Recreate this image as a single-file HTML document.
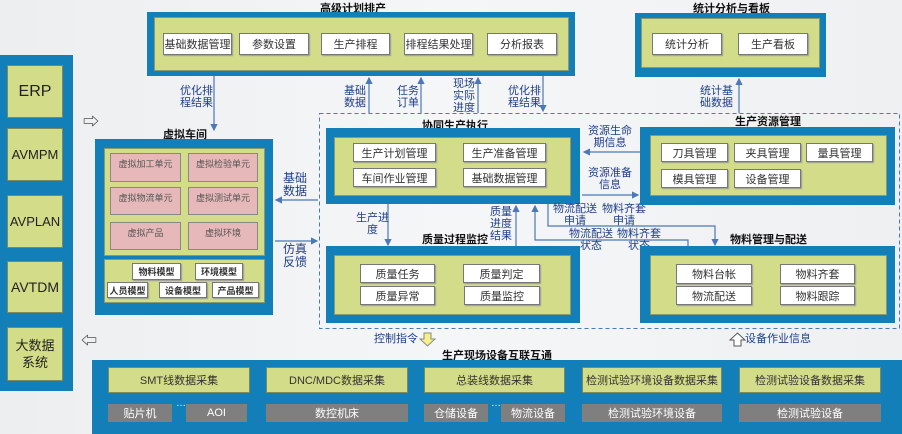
<!DOCTYPE html>
<html><head><meta charset="utf-8"><style>
*{margin:0;padding:0;box-sizing:border-box}
body{width:902px;height:434px;overflow:hidden;background:linear-gradient(90deg,#eceef0,#f5f6f7 50%,#eef0f2);font-family:"Liberation Sans","Noto Sans CJK SC",sans-serif;position:relative}
.a{position:absolute}
.blue{position:absolute;background:#137fb8}
.grn{position:absolute;background:#d3dc88;border:1px solid #8a9a6a}
.btn{position:absolute;background:#fff;border:1px solid #777;box-shadow:1px 1px 1px #999;font-size:11px;color:#333;display:flex;align-items:center;justify-content:center;white-space:nowrap}
.pink{position:absolute;background:#e6b8b9;border:1px solid #888;font-size:9px;color:#555;text-align:center;padding-top:3px}
.gb{position:absolute;background:#d3dc88;border:1px solid #7a8a5a;font-size:11px;color:#333;display:flex;align-items:center;justify-content:center;white-space:nowrap}
.gray{position:absolute;background:#7f7f7f;color:#fff;font-size:11px;display:flex;align-items:center;justify-content:center}
.t{position:absolute;font-size:11px;font-weight:bold;color:#111;white-space:nowrap}
.l{position:absolute;font-size:11px;color:#1f3f8a;line-height:12px;text-align:center;white-space:nowrap}
.lb{position:absolute;background:#d3dc88;border:1px solid #7a8a5a;display:flex;align-items:center;justify-content:center;text-align:center;color:#222;font-size:13px}
</style></head><body>
<svg class="a" style="left:0;top:0" width="902" height="434">
<defs><marker id="m" markerWidth="6" markerHeight="6" refX="5" refY="3" orient="auto"><path d="M0,0 L6,3 L0,6 z" fill="#4a78b8"/></marker></defs>
<rect x="319.5" y="113.5" width="580" height="215" fill="none" stroke="#4a78b8" stroke-dasharray="4,3"/>
<g stroke="#4a78b8" stroke-width="1.2" fill="none" marker-end="url(#m)">
<line x1="214" y1="76" x2="214" y2="130"/>
<line x1="369" y1="113" x2="369" y2="78"/>
<line x1="421" y1="113" x2="421" y2="78"/>
<line x1="478" y1="113" x2="478" y2="78"/>
<line x1="543" y1="76" x2="543" y2="111"/>
<line x1="739" y1="113" x2="739" y2="79"/>
<line x1="640" y1="152" x2="584" y2="152"/>
<line x1="582" y1="195" x2="638" y2="195"/>
<line x1="318" y1="200" x2="276" y2="200"/>
<line x1="275" y1="241" x2="317" y2="241"/>
<line x1="388" y1="204" x2="388" y2="245"/>
<line x1="516" y1="246" x2="516" y2="206"/>
<polyline points="688,247 688,240 535,240 535,206"/>
<polyline points="548,204 548,226 715,226 715,245"/>
</g>
</svg>
<div class="blue" style="left:0;top:55px;width:73px;height:336px"></div>
<div class="lb" style="left:7px;top:65px;width:56px;height:53px;font-size:16px">ERP</div>
<div class="lb" style="left:7px;top:128px;width:56px;height:53px">AVMPM</div>
<div class="lb" style="left:7px;top:195px;width:56px;height:53px">AVPLAN</div>
<div class="lb" style="left:7px;top:261px;width:56px;height:52px;font-size:14px">AVTDM</div>
<div class="lb" style="left:7px;top:327px;width:56px;height:54px;font-size:13px;line-height:17px">大数据<br>系统</div>
<div class="a" style="left:83px;top:108px;font-size:16px;color:#333">⇨</div>
<div class="a" style="left:81px;top:327px;font-size:16px;color:#333">⇦</div>
<div class="t" style="left:320px;top:0px">高级计划排产</div>
<div class="blue" style="left:147px;top:12px;width:428px;height:64px"></div>
<div class="grn" style="left:154px;top:17px;width:415px;height:54px"></div>
<div class="btn" style="left:163px;top:33px;width:69px;height:22px">基础数据管理</div>
<div class="btn" style="left:239px;top:33px;width:70px;height:22px">参数设置</div>
<div class="btn" style="left:321px;top:33px;width:69px;height:22px">生产排程</div>
<div class="btn" style="left:404px;top:33px;width:69px;height:22px">排程结果处理</div>
<div class="btn" style="left:487px;top:33px;width:70px;height:22px">分析报表</div>
<div class="l" style="left:180px;top:85px">优化排<br>程结果</div>
<div class="l" style="left:344px;top:85px">基础<br>数据</div>
<div class="l" style="left:397px;top:85px">任务<br>订单</div>
<div class="l" style="left:453px;top:78px">现场<br>实际<br>进度</div>
<div class="l" style="left:508px;top:85px">优化排<br>程结果</div>
<div class="t" style="left:693px;top:0px">统计分析与看板</div>
<div class="blue" style="left:635px;top:13px;width:191px;height:64px"></div>
<div class="grn" style="left:641px;top:18px;width:179px;height:50px"></div>
<div class="btn" style="left:652px;top:33px;width:70px;height:22px">统计分析</div>
<div class="btn" style="left:738px;top:33px;width:70px;height:22px">生产看板</div>
<div class="l" style="left:700px;top:85px">统计基<br>础数据</div>
<div class="t" style="left:163px;top:126px">虚拟车间</div>
<div class="blue" style="left:95px;top:139px;width:178px;height:176px"></div>
<div class="grn" style="left:104px;top:148px;width:161px;height:108px"></div>
<div class="pink" style="left:110px;top:153px;width:71px;height:29px">虚拟加工单元</div>
<div class="pink" style="left:188px;top:153px;width:70px;height:29px">虚拟检验单元</div>
<div class="pink" style="left:110px;top:187px;width:71px;height:28px">虚拟物流单元</div>
<div class="pink" style="left:188px;top:187px;width:70px;height:28px">虚拟测试单元</div>
<div class="pink" style="left:110px;top:222px;width:71px;height:28px">虚拟产品</div>
<div class="pink" style="left:188px;top:222px;width:70px;height:28px">虚拟环境</div>
<div class="grn" style="left:104px;top:259px;width:161px;height:44px"></div>
<div class="btn" style="left:132px;top:263px;width:49px;height:17px;font-size:9px;font-weight:bold">物料模型</div>
<div class="btn" style="left:195px;top:263px;width:48px;height:17px;font-size:9px;font-weight:bold">环境模型</div>
<div class="btn" style="left:107px;top:282px;width:41px;height:16px;font-size:9px;font-weight:bold">人员模型</div>
<div class="btn" style="left:159px;top:282px;width:48px;height:16px;font-size:9px;font-weight:bold">设备模型</div>
<div class="btn" style="left:212px;top:282px;width:47px;height:16px;font-size:9px;font-weight:bold">产品模型</div>
<div class="l" style="left:283px;top:172px;font-size:12px;line-height:13px">基础<br>数据</div>
<div class="l" style="left:283px;top:243px;font-size:12px;line-height:13px">仿真<br>反馈</div>
<div class="t" style="left:422px;top:117px">协同生产执行</div>
<div class="blue" style="left:326px;top:128px;width:254px;height:76px"></div>
<div class="grn" style="left:334px;top:137px;width:237px;height:59px"></div>
<div class="btn" style="left:353px;top:143px;width:83px;height:19px">生产计划管理</div>
<div class="btn" style="left:463px;top:143px;width:83px;height:19px">生产准备管理</div>
<div class="btn" style="left:353px;top:168px;width:83px;height:19px">车间作业管理</div>
<div class="btn" style="left:463px;top:168px;width:83px;height:19px">基础数据管理</div>
<div class="l" style="left:588px;top:125px">资源生命<br>期信息</div>
<div class="l" style="left:588px;top:167px">资源准备<br>信息</div>
<div class="l" style="left:356px;top:212px">生产进<br>度</div>
<div class="l" style="left:490px;top:206px">质量<br>进度<br>结果</div>
<div class="l" style="left:553px;top:203px">物流配送<br>申请</div>
<div class="l" style="left:602px;top:203px">物料齐套<br>申请</div>
<div class="l" style="left:569px;top:228px">物流配送<br>状态</div>
<div class="l" style="left:617px;top:228px">物料齐套<br>状态</div>
<div class="t" style="left:735px;top:113px">生产资源管理</div>
<div class="blue" style="left:640px;top:127px;width:255px;height:78px"></div>
<div class="grn" style="left:650px;top:135px;width:237px;height:61px"></div>
<div class="btn" style="left:661px;top:143px;width:67px;height:19px">刀具管理</div>
<div class="btn" style="left:734px;top:143px;width:67px;height:19px">夹具管理</div>
<div class="btn" style="left:806px;top:143px;width:67px;height:19px">量具管理</div>
<div class="btn" style="left:661px;top:169px;width:67px;height:19px">模具管理</div>
<div class="btn" style="left:734px;top:169px;width:67px;height:19px">设备管理</div>
<div class="t" style="left:422px;top:231px">质量过程监控</div>
<div class="blue" style="left:326px;top:246px;width:254px;height:77px"></div>
<div class="grn" style="left:334px;top:255px;width:237px;height:60px"></div>
<div class="btn" style="left:360px;top:264px;width:75px;height:19px">质量任务</div>
<div class="btn" style="left:463px;top:264px;width:77px;height:19px">质量判定</div>
<div class="btn" style="left:360px;top:286px;width:75px;height:19px">质量异常</div>
<div class="btn" style="left:464px;top:286px;width:76px;height:19px">质量监控</div>
<div class="t" style="left:730px;top:231px">物料管理与配送</div>
<div class="blue" style="left:640px;top:246px;width:255px;height:77px"></div>
<div class="grn" style="left:650px;top:255px;width:237px;height:60px"></div>
<div class="btn" style="left:676px;top:264px;width:76px;height:20px">物料台帐</div>
<div class="btn" style="left:780px;top:264px;width:75px;height:20px">物料齐套</div>
<div class="btn" style="left:676px;top:286px;width:76px;height:19px">物流配送</div>
<div class="btn" style="left:780px;top:286px;width:75px;height:19px">物料跟踪</div>
<div class="l" style="left:374px;top:333px">控制指令</div>
<svg class="a" style="left:419px;top:332px" width="18" height="15"><path d="M5,1 H12 V7 H16 L8.5,14 L1,7 H5 Z" fill="#f7f08a" stroke="#888"/></svg>
<svg class="a" style="left:729px;top:332px" width="18" height="15"><path d="M5,14 H12 V8 H16 L8.5,1 L1,8 H5 Z" fill="#fff" stroke="#555"/></svg>
<div class="l" style="left:745px;top:333px">设备作业信息</div>
<div class="t" style="left:442px;top:347px">生产现场设备互联互通</div>
<div class="blue" style="left:92px;top:360px;width:810px;height:74px"></div>
<div class="gb" style="left:108px;top:367px;width:142px;height:26px">SMT线数据采集</div>
<div class="gb" style="left:266px;top:367px;width:142px;height:26px">DNC/MDC数据采集</div>
<div class="gb" style="left:424px;top:367px;width:141px;height:26px">总装线数据采集</div>
<div class="gb" style="left:582px;top:367px;width:140px;height:26px">检测试验环境设备数据采集</div>
<div class="gb" style="left:739px;top:367px;width:142px;height:26px">检测试验设备数据采集</div>
<div class="gray" style="left:108px;top:404px;width:64px;height:18px">贴片机</div>
<div class="a" style="left:176px;top:398px;color:#fff;font-size:10px">…</div>
<div class="gray" style="left:186px;top:404px;width:61px;height:18px">AOI</div>
<div class="gray" style="left:266px;top:404px;width:142px;height:18px">数控机床</div>
<div class="gray" style="left:424px;top:404px;width:64px;height:18px">仓储设备</div>
<div class="a" style="left:491px;top:398px;color:#fff;font-size:10px">…</div>
<div class="gray" style="left:501px;top:404px;width:64px;height:18px">物流设备</div>
<div class="gray" style="left:582px;top:404px;width:140px;height:18px">检测试验环境设备</div>
<div class="gray" style="left:739px;top:404px;width:142px;height:18px">检测试验设备</div>
</body></html>
